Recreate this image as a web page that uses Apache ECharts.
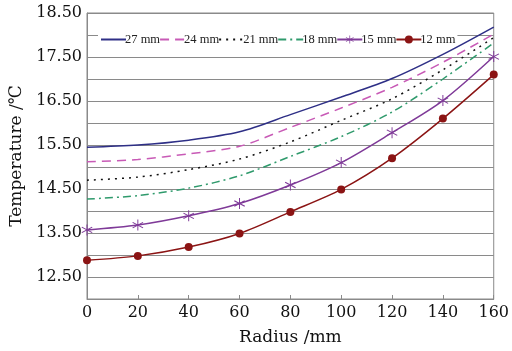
<!DOCTYPE html>
<html>
<head>
<meta charset="utf-8">
<script src="https://cdn.jsdelivr.net/npm/echarts@6/dist/echarts.min.js"></script>
<style>
  html, body { margin: 0; padding: 0; background: #fff; }
  #container { width: 512px; height: 351px; }
</style>
</head>
<body>
<div id="container"></div>
<script>
const radius = [0, 20, 40, 60, 80, 100, 120, 140, 160]

const t27 = [15.45, 15.50, 15.61, 15.80, 16.19, 16.59, 17.01, 17.56, 18.18]
const t24 = [15.12, 15.17, 15.30, 15.47, 15.90, 16.34, 16.81, 17.38, 18.02]
const t21 = [14.70, 14.77, 14.94, 15.18, 15.57, 16.06, 16.55, 17.21, 17.94]
const t18 = [14.27, 14.35, 14.52, 14.80, 15.24, 15.69, 16.25, 17.00, 17.82]
const t15 = [13.57, 13.68, 13.89, 14.17, 14.59, 15.10, 15.78, 16.51, 17.51]
const t12 = [12.88, 12.98, 13.18, 13.49, 13.98, 14.49, 15.20, 16.10, 17.10]

const xTicks = [0, 20, 40, 60, 80, 100, 120, 140, 160]
const yLabels = ['12.50', '13.50', '14.50', '15.50', '16.50', '17.50', '18.50']

const font = 'DejaVu Serif'
const asterisk = 'path://M9.2,0L10.8,0L10.8,20L9.2,20Z' +
  'M1.04,5.78L1.96,4.22L18.96,14.22L18.04,15.78Z' +
  'M1.96,15.78L1.04,14.22L18.04,4.22L18.96,5.78Z'

const pairs = (arr) => radius.map((r, i) => [r, arr[i]])

const lineSeries = (name, data, color, type, extra) => Object.assign({
  name,
  type: 'line',
  smooth: 0.3,
  data: pairs(data),
  symbol: 'none',
  color,
  lineStyle: { color, width: 1.5, type },
  z: 3
}, extra || {})

// plain lines: hide the legend's default circle
const noMark = (name) => ({ name, itemStyle: { opacity: 0 } })

const myChart = echarts.init(document.getElementById('container'))

myChart.setOption({
  backgroundColor: '#fff',
  animation: false,
  grid: {
    left: 87,
    right: 13,
    top: 13,
    bottom: 48,
    show: true,
    borderColor: '#8a8a8a',
    borderWidth: 1
  },
  legend: {
    left: 98,
    top: 31,
    width: 400,
    z: 2.5,
    itemWidth: 25,
    itemHeight: 10,
    itemGap: -1,
    padding: [2, 2],
    backgroundColor: '#fff',
    textStyle: { fontFamily: 'Liberation Serif', fontSize: 12.5, color: '#222', padding: [0, 0, 0, -6] },
    data: [noMark('27 mm'), noMark('24 mm'), noMark('21 mm'), noMark('18 mm'), '15 mm', '12 mm']
  },
  xAxis: {
    type: 'value',
    min: 0,
    max: 160,
    interval: 20,
    name: 'Radius /mm',
    nameLocation: 'middle',
    nameGap: 30,
    nameTextStyle: { fontFamily: font, fontSize: 17, color: '#111' },
    axisLine: { lineStyle: { color: '#8a8a8a' } },
    axisTick: { inside: true, length: 4, lineStyle: { color: '#8a8a8a' } },
    axisLabel: {
      fontFamily: font, fontSize: 16, color: '#111', margin: 6,
      formatter: (v) => xTicks.includes(v) ? String(v) : ''
    },
    splitLine: { show: false }
  },
  yAxis: {
    type: 'value',
    min: 12,
    max: 18.5,
    interval: 0.5,
    name: 'Temperature /℃',
    nameLocation: 'middle',
    nameGap: 60,
    nameRotate: 90,
    nameTextStyle: { fontFamily: font, fontSize: 17, color: '#111' },
    axisLine: { show: true, lineStyle: { color: '#8a8a8a' } },
    axisTick: { show: true, inside: true, length: 9, lineStyle: { color: '#8a8a8a' } },
    axisLabel: {
      fontFamily: font, fontSize: 16, color: '#111', margin: 5,
      formatter: (v) => {
        const s = v.toFixed(2)
        return yLabels.includes(s) ? s : ''
      }
    },
    splitLine: { show: true, lineStyle: { color: '#8a8a8a', width: 1 } }
  },
  series: [
    lineSeries('27 mm', t27, '#2e2f86', 'solid'),
    lineSeries('24 mm', t24, '#c85ab6', [9, 6]),
    lineSeries('21 mm', t21, '#111111', [2, 5]),
    lineSeries('18 mm', t18, '#2f9a6c', [8, 4, 2, 4]),
    lineSeries('15 mm', t15, '#7f3a98', 'solid', {
      symbol: asterisk, symbolSize: 11, showAllSymbol: true,
      itemStyle: { color: '#7f3a98' }
    }),
    lineSeries('12 mm', t12, '#8b1414', 'solid', {
      symbol: 'circle', symbolSize: 8, showAllSymbol: true,
      itemStyle: { color: '#8b1414' }
    })
  ]
})
</script>
</body>
</html>
